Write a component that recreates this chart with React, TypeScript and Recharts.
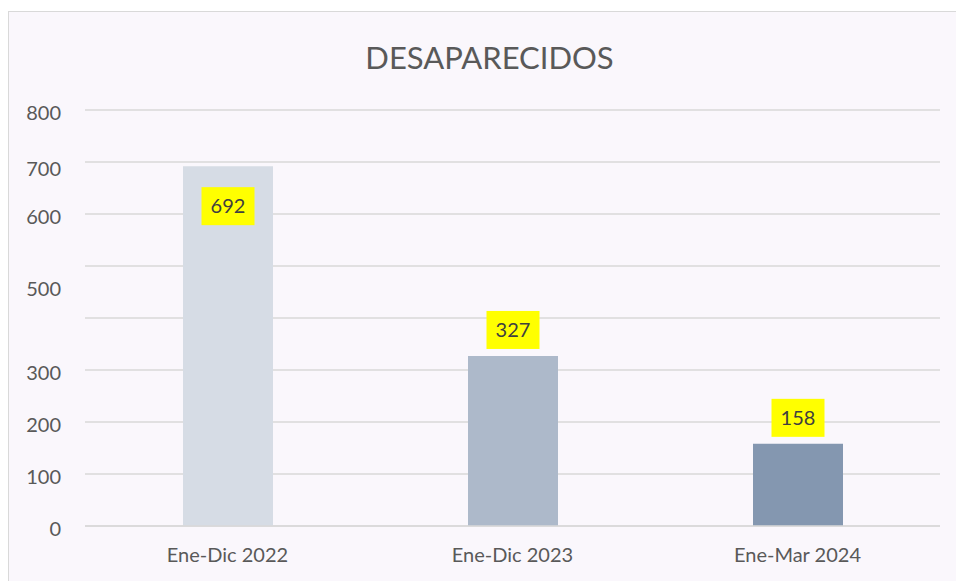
import { BarChart, Bar, XAxis, YAxis, CartesianGrid, Cell, LabelList } from "recharts";

const categories = ["Ene-Dic 2022", "Ene-Dic 2023", "Ene-Mar 2024"];
const values = [692, 327, 158];
const barColors = ["#D6DCE5", "#ADB9CA", "#8497B0"];
const yTicks = [0, 100, 200, 300, 400, 500, 600, 700, 800];

// the original picture drops the 400 label and nudges a couple of others
const hiddenTicks = [400];
const tickNudge: Record<number, number> = { 700: 4, 500: 20 };

const FONT = "Lato, 'Open Sans', sans-serif";
const data = categories.map((name, i) => ({ name, value: values[i] }));

function YTick({ x, y, payload }: any) {
  if (hiddenTicks.includes(payload.value)) return null;
  return (
    <text x={x} y={y + 3 + (tickNudge[payload.value] ?? 0)} dy="0.35em" textAnchor="end"
      fill="#595959" fontSize={20} fontFamily={FONT}>
      {payload.value}
    </text>
  );
}

function XTick({ x, y, payload }: any) {
  return (
    <text x={x} y={y} dy="0.75em" textAnchor="middle" fill="#595959" fontSize={20} fontFamily={FONT}>
      {payload.value}
    </text>
  );
}

function ValueLabel({ x, y, width, value }: any) {
  const cx = x + width / 2;
  const inside = value > 600;
  const top = inside ? y + 21 : y - 45;
  return (
    <g>
      <rect x={cx - 26.5} y={top} width={53} height={38} fill="#FFFF00" />
      <text x={cx} y={top + 19} dy="0.35em" textAnchor="middle" fill="#404040" fontSize={20} fontFamily={FONT}>
        {value}
      </text>
    </g>
  );
}

export default function App() {
  return (
    <div style={{ position: "fixed", left: 0, top: 0, width: 956, height: 581, overflow: "hidden", background: "#FFFFFF" }}>
      <div style={{
        position: "absolute", left: 8, top: 11, width: 980, height: 600,
        border: "1px solid #D9D9D9", background: "#FAF7FC",
      }} />
      <div style={{
        position: "absolute", left: 8, top: 38, width: 963, textAlign: "center",
        fontFamily: FONT, fontSize: 31, color: "#595959",
      }}>
        DESAPARECIDOS
      </div>
      <div style={{ position: "absolute", left: 0, top: 0 }}>
        <BarChart width={956} height={581} data={data}
          margin={{ top: 110, right: 16, bottom: 25, left: 0 }} barCategoryGap={97}>
          <CartesianGrid vertical={false} stroke="#D9D9D9" strokeWidth={1.5} />
          <XAxis dataKey="name" tickLine={false} axisLine={{ stroke: "#D9D9D9", strokeWidth: 1.5 }}
            tickMargin={15} height={30} tick={<XTick />} />
          <YAxis domain={[0, 800]} ticks={yTicks} width={85} tickLine={false} axisLine={false}
            tickMargin={18} tick={<YTick />} interval={0} />
          <Bar dataKey="value" isAnimationActive={false} barSize={90}>
            {data.map((_d, i) => (
              <Cell key={i} fill={barColors[i]} />
            ))}
            <LabelList dataKey="value" content={<ValueLabel />} />
          </Bar>
        </BarChart>
      </div>
    </div>
  );
}
